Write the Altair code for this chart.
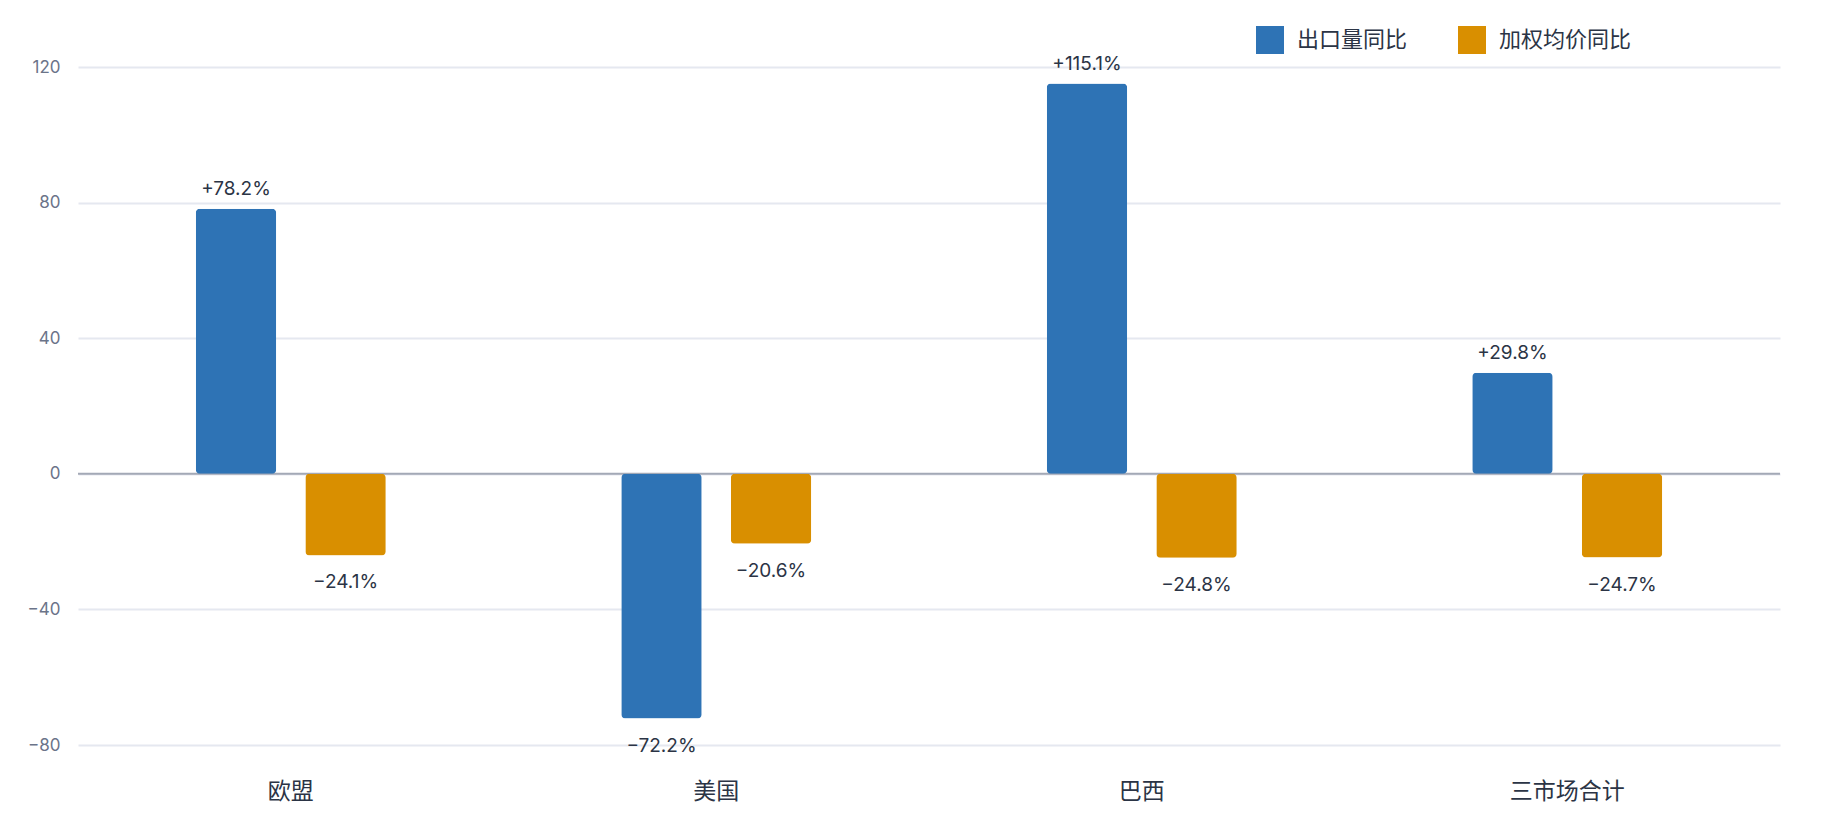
import altair as alt
import pandas as pd

markets = ["欧盟", "美国", "巴西", "三市场合计"]
series = ["出口量同比", "加权均价同比"]
volume_yoy = [78.2, -72.2, 115.1, 29.8]
price_yoy = [-24.1, -20.6, -24.8, -24.7]
colors = ["#2E73B5", "#D98F00"]
y_ticks = [-80, -40, 0, 40, 80, 120]

rows = []
for i, m in enumerate(markets):
    rows.append({"market": m, "series": series[0], "value": volume_yoy[i]})
    rows.append({"market": m, "series": series[1], "value": price_yoy[i]})
df = pd.DataFrame(rows)

FONT = "Inter, 'Noto Sans CJK SC', sans-serif"
CJK = "'Noto Sans CJK SC', sans-serif"

x_enc = alt.X(
    "market:N",
    sort=markets,
    scale=alt.Scale(paddingInner=0.5535, paddingOuter=0.2768),
    axis=alt.Axis(
        title=None, labelAngle=0, domain=False, ticks=False, grid=False,
        labelFontSize=23, labelColor="#2b3445", labelPadding=35, labelFont=CJK,
    ),
)
xo_enc = alt.XOffset("series:N", sort=series,
                     scale=alt.Scale(paddingInner=0.266, paddingOuter=0))
y_enc = alt.Y(
    "value:Q",
    scale=alt.Scale(domain=[-80, 120], nice=False),
    axis=alt.Axis(
        values=y_ticks, title=None, domain=False, ticks=False,
        labelFontSize=17, labelColor="#6b7489", labelPadding=18, labelFont=FONT,
        gridColor="#e5e8f0", gridWidth=2,
    ),
)

base = alt.Chart(df).encode(x=x_enc, xOffset=xo_enc, y=y_enc)

zero = alt.Chart(pd.DataFrame({"z": [0]})).mark_rule(
    color="#a3a9b6", strokeWidth=2
).encode(y="z:Q")

bars = base.mark_bar(cornerRadius=4).encode(
    color=alt.Color(
        "series:N",
        sort=series,
        scale=alt.Scale(domain=series, range=colors),
        legend=alt.Legend(
            title=None, orient="none", legendX=1178, legendY=-41,
            direction="horizontal", symbolType="square", symbolSize=784,
            symbolStrokeWidth=0, labelFontSize=22, labelColor="#2b3445",
            labelFont=CJK, columnPadding=50, labelOffset=13, padding=0,
        ),
    )
)

label_expr = "format(datum.value, '+.1f') + '%'"
pos = base.transform_filter("datum.value >= 0").transform_calculate(
    label=label_expr
).mark_text(dy=-20, baseline="middle", fontSize=19, font=FONT, color="#2b3445").encode(
    text="label:N"
)
neg = base.transform_filter("datum.value < 0").transform_calculate(
    label=label_expr
).mark_text(dy=27, baseline="middle", fontSize=19, font=FONT, color="#2b3445").encode(
    text="label:N"
)

chart = alt.layer(zero, bars, pos, neg).properties(
    width=1702,
    height=678,
    autosize=alt.AutoSizeParams(type="none"),
    padding={"left": 70, "top": 59, "right": 50, "bottom": 80},
    background="white",
).configure_view(stroke=None)

chart.save("out.html", embed_options={"renderer": "svg", "actions": False})
